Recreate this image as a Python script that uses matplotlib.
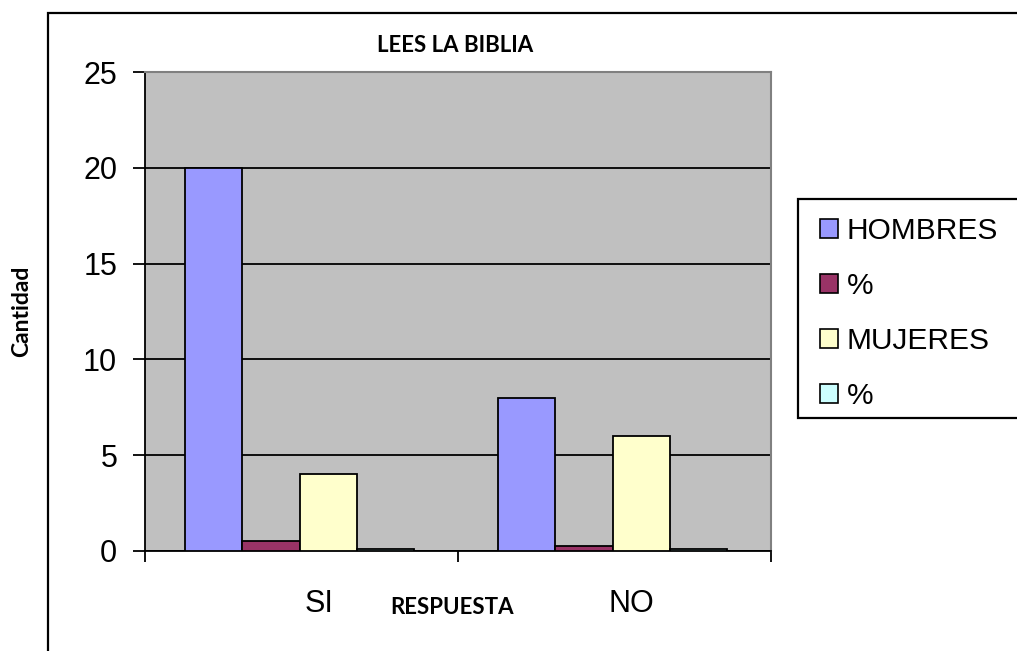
import numpy as np
import matplotlib.pyplot as plt
from matplotlib.patches import Rectangle, Patch

categories = ['SI', 'NO']
series_names = ['HOMBRES', '%', 'MUJERES', '%']
hombres = [20, 8]
hombres_pct = [0.5, 0.28]
mujeres = [4, 6]
mujeres_pct = [0.1, 0.1]
y_ticks = [0, 5, 10, 15, 20, 25]

colors = ['#9999FF', '#993366', '#FFFFCC', '#CCFFFF']
series = [hombres, hombres_pct, mujeres, mujeres_pct]

W, H = 1017, 651
fig = plt.figure(figsize=(W / 100, H / 100), dpi=100)

# outer chart frame (runs off the right and bottom edges)
fig.patches.append(Rectangle((48 / W, -0.1), 1.2, 1 - 13 / H + 0.1,
                             transform=fig.transFigure, fill=False,
                             edgecolor='black', linewidth=1.6, clip_on=False))

ax = fig.add_axes([145 / W, 1 - 551 / H, (771 - 145) / W, (551 - 72) / H])
ax.set_facecolor('#C0C0C0')

bar_w = 0.183
x = np.arange(len(categories)) + 0.5
offsets = (np.arange(4) - 1.5) * bar_w - 0.006
for vals, col, off in zip(series, colors, offsets):
    ax.bar(x + off, vals, bar_w, color=col, edgecolor='black', linewidth=1.3, zorder=3)

ax.set_xlim(0, 2)
ax.set_ylim(0, 25)
ax.set_yticks(y_ticks)
ax.yaxis.grid(True, color='black', linewidth=1.3, zorder=1)
ax.set_axisbelow(True)
ax.tick_params(axis='y', labelsize=22, length=9, width=1.3, direction='out',
               pad=11, colors='black')
for lab in ax.get_yticklabels():
    lab.set_family('Liberation Sans')

ax.set_xticks([0, 1, 2])
ax.set_xticklabels([])
ax.tick_params(axis='x', length=8, width=1.3, direction='out')
for xi, cat in zip(x, categories):
    ax.text(xi + 0.055, -2.75, cat, ha='center', va='center', fontsize=22,
            family='Liberation Sans', transform=ax.transData, clip_on=False)

for side in ['top', 'right']:
    ax.spines[side].set_color('#808080')
    ax.spines[side].set_linewidth(1.5)
for side in ['left', 'bottom']:
    ax.spines[side].set_color('black')
    ax.spines[side].set_linewidth(1.3)

fig.text(455 / W, 1 - 46 / H, 'LEES LA BIBLIA', ha='center', va='center',
         fontsize=16, fontweight='bold', family='Lato')
fig.text(452 / W, 1 - 607 / H, 'RESPUESTA', ha='center', va='center',
         fontsize=16, fontweight='bold', family='Lato')
fig.text(22 / W, 1 - 311 / H, 'Cantidad', ha='center', va='center',
         fontsize=16.5, fontweight='bold', family='Lato', rotation=90)

# legend box (also runs off the right edge)
fig.patches.append(Rectangle((798 / W, 1 - 418 / H), 0.3, (418 - 199) / H,
                             transform=fig.transFigure, facecolor='white',
                             edgecolor='black', linewidth=1.6, clip_on=False))
handles = [Patch(facecolor=c, edgecolor='black', linewidth=1.2) for c in colors]
leg = fig.legend(handles, series_names, loc='upper left',
                 bbox_to_anchor=(808 / W, 1 - 205 / H), frameon=False,
                 prop={'family': 'Liberation Sans', 'size': 21.5},
                 handlelength=0.6, handleheight=0.6, handletextpad=0.3,
                 labelspacing=0.9, borderaxespad=0)

fig.savefig('out.png', dpi=100)
